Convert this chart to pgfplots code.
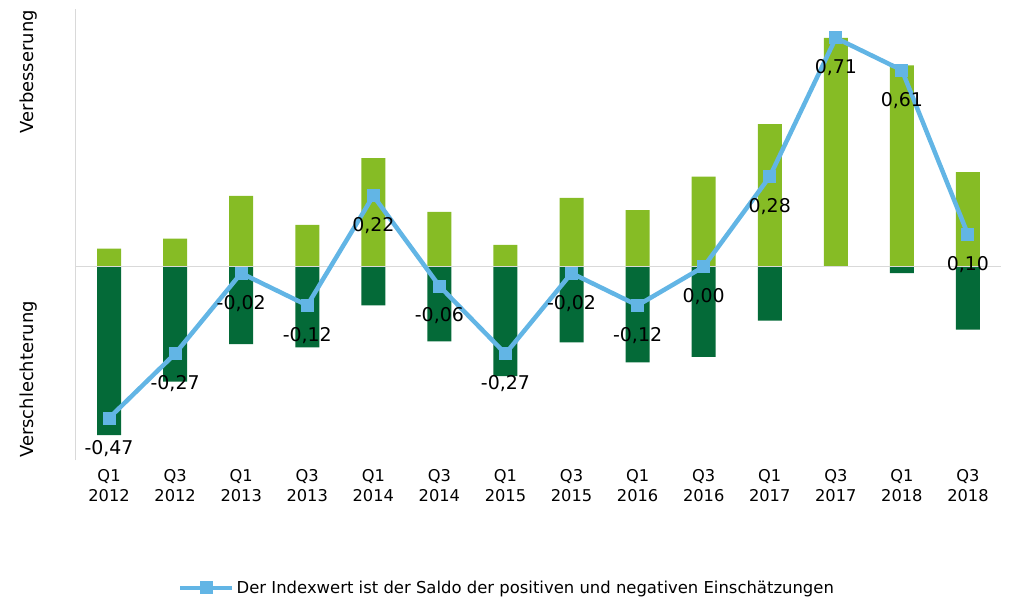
\documentclass[border=0pt]{standalone}
\usepackage{fontspec}
\setmainfont{DejaVu Sans}
\usepackage{pgfplots}
\pgfplotsset{compat=1.18}
\definecolor{lgreen}{HTML}{86BC25}
\definecolor{dgreen}{HTML}{046A38}
\definecolor{lblue}{HTML}{62B5E5}
\definecolor{axgray}{HTML}{D9D9D9}
\begin{document}
\begin{tikzpicture}
\begin{axis}[
  scale only axis,
  width=925bp, height=451bp,
  xmin=-0.5, xmax=13.5,
  ymin=-0.6, ymax=0.8,
  axis line style={draw=none},
  tick style={draw=none},
  clip=false,
  xtick={0,...,13},
  xticklabels={{Q1\\2012},{Q3\\2012},{Q1\\2013},{Q3\\2013},{Q1\\2014},{Q3\\2014},{Q1\\2015},{Q3\\2015},{Q1\\2016},{Q3\\2016},{Q1\\2017},{Q3\\2017},{Q1\\2018},{Q3\\2018}},
  xticklabel style={align=center, font=\fontsize{16.3}{20}\selectfont, inner sep=0pt, yshift=-9bp},
  ytick=\empty,
  legend style={at={(0.466,-0.2838)}, anchor=center, draw=none, fill=none,
    font=\fontsize{16.5}{19}\selectfont, inner sep=0pt},
  legend image code/.code={\draw[#1,mark repeat=2,mark phase=2] plot coordinates {(0bp,0bp) (26bp,0bp) (52bp,0bp)};},
]
\draw[axgray, line width=1bp] (rel axis cs:0,0) -- (rel axis cs:0,1);
\path ([xshift=-76bp,yshift=-141bp]rel axis cs:0,0) rectangle ([xshift=15bp,yshift=9bp]rel axis cs:1,1);
\addplot[ybar, bar width=24bp, bar shift=0pt, fill=lgreen, draw=none, forget plot] coordinates {
(0,0.056) (1,0.087) (2,0.22) (3,0.13) (4,0.337) (5,0.17) (6,0.068)
(7,0.214) (8,0.176) (9,0.28) (10,0.443) (11,0.71) (12,0.625) (13,0.294)};
\addplot[ybar, bar width=24bp, bar shift=0pt, fill=dgreen, draw=none, forget plot] coordinates {
(0,-0.523) (1,-0.357) (2,-0.24) (3,-0.25) (4,-0.12) (5,-0.232) (6,-0.34)
(7,-0.235) (8,-0.297) (9,-0.28) (10,-0.167) (11,0) (12,-0.02) (13,-0.195)};
\draw[axgray, line width=1bp] (axis cs:-0.5,0) -- (axis cs:13.5,0);
\addplot[lblue, line width=4.5bp, mark=square*, mark size=6bp,
  mark options={fill=lblue, draw=lblue, line width=0pt},
  nodes near coords, point meta=explicit symbolic,
  every node near coord/.style={anchor=center, yshift=-30bp, text=black,
    font=\fontsize{19}{21}\selectfont}]
  coordinates {
(0,-0.47) [-0,47] (1,-0.27) [-0,27] (2,-0.02) [-0,02] (3,-0.12) [-0,12]
(4,0.22) [0,22] (5,-0.06) [-0,06] (6,-0.27) [-0,27] (7,-0.02) [-0,02]
(8,-0.12) [-0,12] (9,0.00) [0,00] (10,0.28) [0,28] (11,0.71) [0,71]
(12,0.61) [0,61] (13,0.10) [0,10]};
\addlegendentry{Der Indexwert ist der Saldo der positiven und negativen Einschätzungen}
\node[rotate=90, anchor=east, inner sep=0pt, font=\fontsize{18}{20}\selectfont]
  at ([xshift=-47bp,yshift=-1bp]rel axis cs:0,1) {Verbesserung};
\node[rotate=90, anchor=west, inner sep=0pt, font=\fontsize{18}{20}\selectfont]
  at ([xshift=-47bp,yshift=2bp]rel axis cs:0,0) {Verschlechterung};
\end{axis}
\end{tikzpicture}
\end{document}
